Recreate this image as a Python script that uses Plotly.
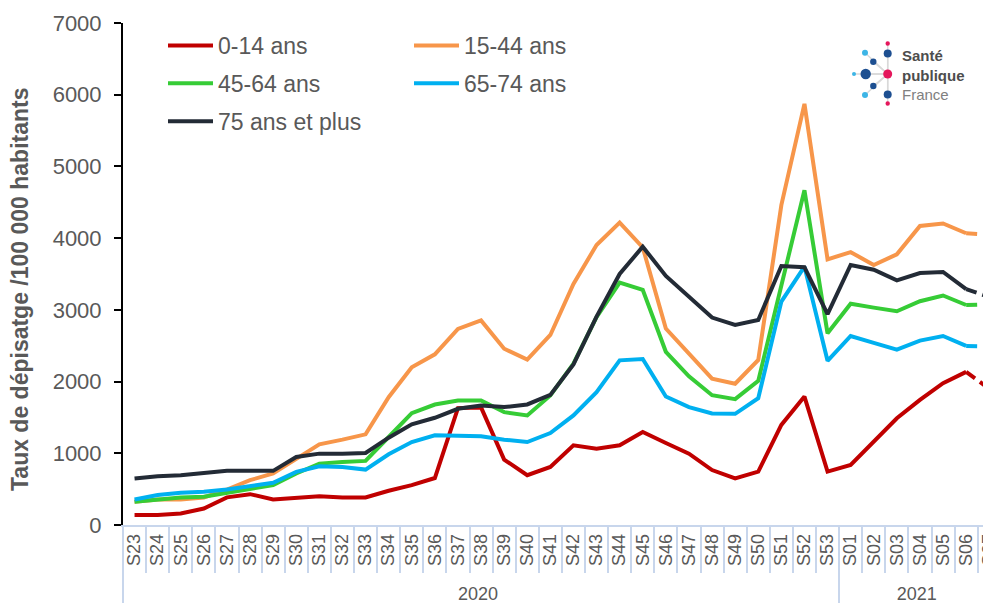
import plotly.graph_objects as go

# semaines (axe multicatégorie année / semaine)
weeks = ['S23', 'S24', 'S25', 'S26', 'S27', 'S28', 'S29', 'S30', 'S31', 'S32',
         'S33', 'S34', 'S35', 'S36', 'S37', 'S38', 'S39', 'S40', 'S41', 'S42',
         'S43', 'S44', 'S45', 'S46', 'S47', 'S48', 'S49', 'S50', 'S51', 'S52',
         'S53', 'S01', 'S02', 'S03', 'S04', 'S05', 'S06', 'S07']
years = ['2020'] * 31 + ['2021'] * 7

age_0_14 = [139, 139, 160, 230, 385, 430, 356, 384, 400, 384,
            384, 477, 556, 655, 1630, 1640, 912, 694, 810, 1111,
            1065, 1111, 1296, 1144, 995, 766, 650, 744, 1395, 1791,
            744, 837, 1163, 1488, 1744, 1977, 2135, 1900]
age_15_44 = [324, 356, 356, 384, 495, 625, 718, 926, 1125, 1190,
             1264, 1782, 2199, 2380, 2735, 2852, 2458, 2306, 2650, 3360,
             3905, 4216, 3870, 2740, 2390, 2040, 1970, 2301, 4460, 5872,
             3705, 3805, 3626, 3775, 4170, 4205, 4068, 4050]
age_45_64 = [324, 356, 384, 394, 449, 495, 556, 718, 856, 880,
             894, 1227, 1560, 1680, 1736, 1736, 1574, 1528, 1806, 2250,
             2900, 3379, 3278, 2415, 2074, 1810, 1755, 2010, 3330, 4668,
             2673, 3085, 3031, 2980, 3120, 3200, 3068, 3078]
age_65_74 = [356, 417, 449, 463, 495, 542, 588, 741, 819, 810,
             773, 986, 1157, 1250, 1250, 1236, 1190, 1157, 1282, 1528,
             1852, 2296, 2315, 1792, 1644, 1555, 1550, 1767, 3115, 3603,
             2290, 2636, 2540, 2446, 2571, 2636, 2497, 2490]
age_75_plus = [648, 680, 694, 718, 755, 755, 755, 949, 995, 995,
               1005, 1218, 1403, 1495, 1620, 1667, 1644, 1681, 1815, 2240,
               2906, 3500, 3881, 3473, 3184, 2893, 2789, 2859, 3612, 3594,
               2940, 3626, 3560, 3412, 3514, 3528, 3290, 3180]

series = [
    ('0-14 ans', age_0_14, '#C00000', 'legend'),
    ('15-44 ans', age_15_44, '#F7964A', 'legend2'),
    ('45-64 ans', age_45_64, '#36CC36', 'legend'),
    ('65-74 ans', age_65_74, '#00B0F0', 'legend2'),
    ('75 ans et plus', age_75_plus, '#232B36', 'legend'),
]

FONT = 'Arial, Liberation Sans, sans-serif'
GREY = '#595959'
SEP = '#C8D6EC'

fig = go.Figure()

for name, values, color, leg in series:
    # semaines consolidées : trait plein
    fig.add_trace(go.Scatter(
        x=[years[:-1], weeks[:-1]], y=values[:-1],
        mode='lines', name=name, legendgroup=name, legend=leg,
        line=dict(color=color, width=4),
    ))
    # dernière semaine (provisoire) : pointillés
    fig.add_trace(go.Scatter(
        x=[years[-2:], weeks[-2:]], y=values[-2:],
        mode='lines', name=name, legendgroup=name, legend=leg, showlegend=False,
        line=dict(color=color, width=4, dash='11px,6px'),
    ))

# zone de tracé (px de la figure) ; la page ajoute une marge de 8 px
OFF = 8
L, T, H = 115, 15, 502
W = 991 - L


def px(x, y):
    # position écran -> coordonnées papier
    return (x - OFF - L) / W, (T + H - (y - OFF)) / H


# logo Santé publique France
dots = [
    (887.7, 43.5, 2.2, '#E5175C'), (887.7, 53.5, 4, '#1D4F91'),
    (865, 52.7, 3, '#3DB5E6'), (873.3, 61.7, 3.2, '#1D4F91'),
    (865.7, 74, 5.2, '#1D4F91'), (854, 74, 2, '#3DB5E6'),
    (887.7, 74, 4.5, '#E5175C'), (873.3, 86, 3.2, '#1D4F91'),
    (865, 95, 3, '#3DB5E6'), (887.7, 94.5, 4, '#1D4F91'),
    (887.7, 103.5, 2.2, '#E5175C'),
]
cx, cy = px(887.7, 74)
for x, y, r, c in dots:
    x0, y0 = px(x, y)
    fig.add_shape(type='line', xref='paper', yref='paper', x0=cx, y0=cy, x1=x0, y1=y0,
                  line=dict(color='#D9D9D9', width=1.5), layer='below')
for x, y, r, c in dots:
    x0, y0 = px(x - r, y + r)
    x1, y1 = px(x + r, y - r)
    fig.add_shape(type='circle', xref='paper', yref='paper', x0=x0, y0=y0, x1=x1, y1=y1,
                  fillcolor=c, line=dict(width=0))

ax, ay = px(901, 75)
fig.add_annotation(x=ax, y=ay, xref='paper', yref='paper', showarrow=False,
                   text="<b>Santé</b><br><b>publique</b><br>"
                        "<span style='color:#808080'>France</span>",
                   align='left', xanchor='left', yanchor='middle', borderpad=0,
                   font=dict(family=FONT, size=15, color='#4D4D4D'))

# titre de l'axe des ordonnées
tx, ty = px(20, 289)
fig.add_annotation(x=tx, y=ty, xref='paper', yref='paper', showarrow=False,
                   text='Taux de dépisatge /100 000 habitants', textangle=-90,
                   xanchor='center', yanchor='middle',
                   font=dict(family=FONT, size=23, color=GREY, weight='bold'))

leg_y = (T + H - 16) / H
fig.update_layout(
    width=991, height=603,
    margin=dict(l=L, r=0, t=T, b=603 - T - H),
    plot_bgcolor='white', paper_bgcolor='white',
    font=dict(family=FONT, color=GREY),
    legend=dict(x=(155 - L) / W, y=leg_y, xanchor='left', yanchor='top',
                orientation='v', tracegroupgap=5, itemwidth=45,
                bgcolor='rgba(0,0,0,0)',
                font=dict(size=23, color=GREY, family=FONT)),
    legend2=dict(x=(401 - L) / W, y=leg_y, xanchor='left', yanchor='top',
                 orientation='v', tracegroupgap=5, itemwidth=45,
                 bgcolor='rgba(0,0,0,0)',
                 font=dict(size=23, color=GREY, family=FONT)),
)

fig.update_yaxes(
    range=[0, 7000], dtick=1000, showgrid=False, zeroline=False,
    showline=True, linecolor='black', linewidth=2,
    ticks='outside', ticklen=7, tickcolor='black', tickwidth=2,
    ticklabelstandoff=8,
    tickfont=dict(size=22, color=GREY, family=FONT),
    automargin=False,
)

fig.update_xaxes(
    type='multicategory', range=[-0.5, -0.5 + W / 23.1],
    showgrid=False, zeroline=False,
    showline=True, linecolor=SEP, linewidth=1.5,
    ticks='outside', tickson='boundaries', ticklen=46, tickcolor=SEP, tickwidth=1.5,
    showdividers=True, dividercolor=SEP, dividerwidth=1.5,
    tickangle=-90, tickfont=dict(size=18, color=GREY, family=FONT),
    automargin=False,
)

fig.write_html('out.html')
